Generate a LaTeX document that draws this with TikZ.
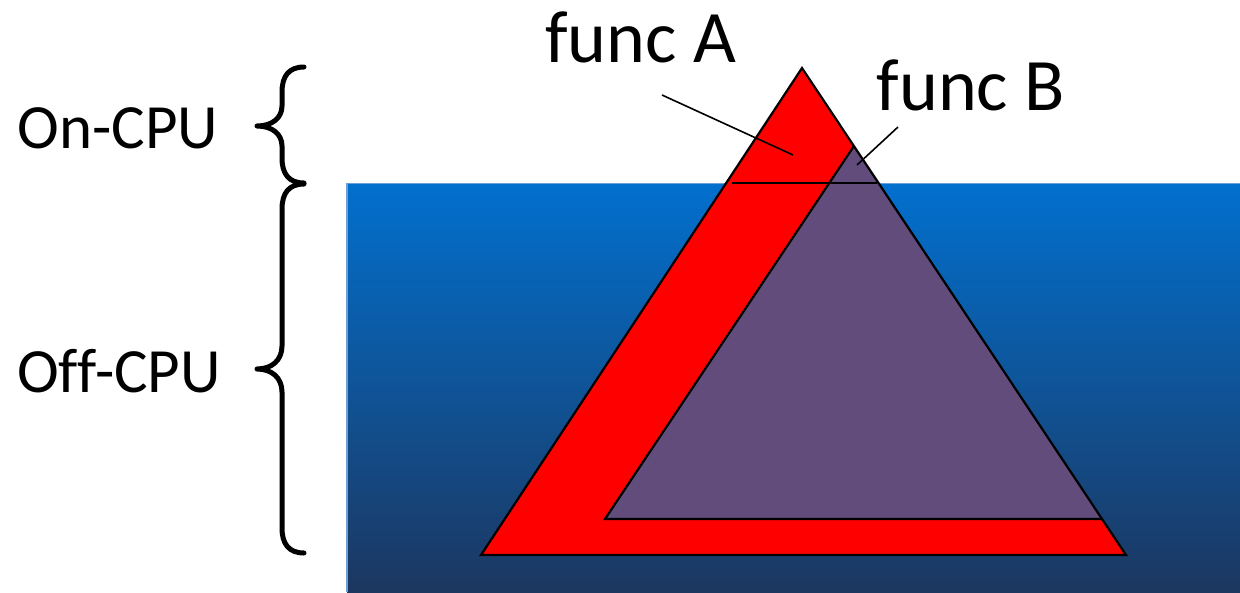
\documentclass[tikz,border=0pt]{standalone}
\usepackage{fontspec}
\setmainfont{Carlito}[Ligatures=NoCommon]
\definecolor{panTop}{RGB}{2,112,206}
\definecolor{panBot}{RGB}{28,55,96}
\definecolor{panEdge}{RGB}{110,160,215}
\definecolor{purp}{RGB}{97,76,123}
\begin{document}
\begin{tikzpicture}[x=1pt,y=-1pt,
  lbl/.style={font=\fontsize{74}{74}\selectfont, inner sep=0pt, anchor=base},
  side/.style={font=\fontsize{63}{63}\selectfont, inner sep=0pt, anchor=base},
  brc/.style={line width=5pt, line cap=round, line join=round},
  edge/.style={line width=2.2pt, line join=miter},
  leader/.style={line width=1.6pt}]
\useasboundingbox (0,0) rectangle (1240,592);
% blue panel with vertical gradient
\shade[top color=panTop, bottom color=panBot] (347,183) rectangle (1240,592);
\draw[line width=1.5pt, panEdge] (347,592) -- (347,183.5) -- (1240,183.5);
% red triangle
\fill[red] (802,68) -- (1126,555) -- (481,555) -- cycle;
% purple triangle
\fill[purp] (854,146) -- (1102,519) -- (605,519) -- cycle;
\draw[edge] (854,146) -- (605,519) -- (1102,519);
\draw[edge] (802,68) -- (1126,555) -- (481,555) -- cycle;
% on/off CPU boundary line across triangle
\coordinate (bl) at (732,183);
\coordinate (br) at (877,183);
\draw[leader] (bl) -- (br);
% labels
\node[lbl] (fa) at (641,62) {func A};
\node[lbl] (fb) at (971,110) {func B};
\node[side] (on) at (118,148) {On-CPU};
\node[side] (off) at (119,392) {Off-CPU};
\coordinate (fa1) at (662,95);
\coordinate (fa2) at (793,155);
\coordinate (fb1) at (898,127);
\coordinate (fb2) at (857,165);
\draw[leader] (fa1) -- (fa2);
\draw[leader] (fb1) -- (fb2);
% braces
\draw[brc] (304,67) .. controls (289,67) and (282,76) .. (282,92) -- (282,106)
  .. controls (282,118) and (272,126) .. (257,126)
  .. controls (272,126) and (282,134) .. (282,146) -- (282,158)
  .. controls (282,174) and (289,183) .. (304,183);
\draw[brc] (304,184) .. controls (289,184) and (282,193) .. (282,209) -- (282,346)
  .. controls (282,360) and (272,369) .. (257,369)
  .. controls (272,369) and (282,378) .. (282,392) -- (282,528)
  .. controls (282,544) and (289,553) .. (304,553);
\end{tikzpicture}
\end{document}
